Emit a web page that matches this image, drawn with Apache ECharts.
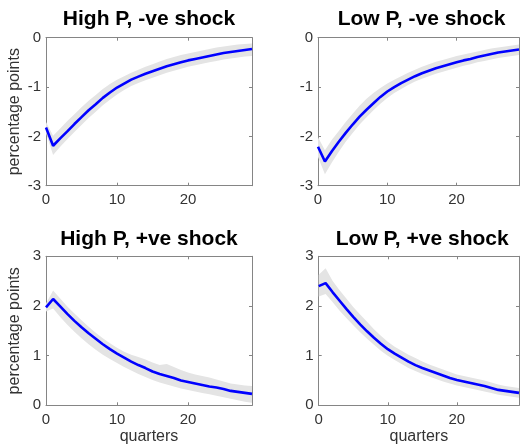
<!DOCTYPE html>
<html>
<head>
<meta charset="utf-8">
<script src="https://cdn.jsdelivr.net/npm/echarts@6/dist/echarts.min.js"></script>
<style>
html,body{margin:0;padding:0;background:#fff;}
#chart{width:522px;height:446px;}
</style>
</head>
<body>
<div id="chart"></div>
<script>
// ---- data ----
const quarters = [0,1,2,3,4,5,6,7,8,9,10,11,12,13,14,15,16,17,18,19,20,21,22,23,24,25,26,27,28,29];
const titles = ['High P, -ve shock', 'Low P, -ve shock', 'High P, +ve shock', 'Low P, +ve shock'];
const xTicks = [0, 10, 20];
const yTicksNeg = [-3, -2, -1, 0];
const yTicksPos = [0, 1, 2, 3];

const highNeg = [-1.82,-2.19,-2.04,-1.90,-1.75,-1.61,-1.47,-1.35,-1.22,-1.11,-1.01,-0.93,-0.85,-0.79,-0.73,-0.68,-0.63,-0.58,-0.54,-0.50,-0.46,-0.43,-0.40,-0.37,-0.34,-0.31,-0.29,-0.27,-0.25,-0.23];
const highNegLo = [-1.93,-2.38,-2.21,-2.06,-1.91,-1.77,-1.63,-1.50,-1.37,-1.26,-1.15,-1.06,-0.98,-0.92,-0.86,-0.81,-0.76,-0.71,-0.67,-0.63,-0.59,-0.56,-0.53,-0.50,-0.47,-0.44,-0.42,-0.40,-0.38,-0.37];
const highNegHi = [-1.71,-1.99,-1.84,-1.69,-1.55,-1.41,-1.28,-1.16,-1.04,-0.94,-0.85,-0.78,-0.71,-0.65,-0.59,-0.54,-0.48,-0.43,-0.39,-0.35,-0.32,-0.29,-0.26,-0.23,-0.20,-0.18,-0.16,-0.14,-0.13,-0.12];

const lowNeg = [-2.21,-2.51,-2.30,-2.11,-1.93,-1.76,-1.60,-1.46,-1.33,-1.20,-1.09,-1.00,-0.92,-0.85,-0.78,-0.72,-0.67,-0.62,-0.58,-0.54,-0.50,-0.46,-0.43,-0.39,-0.36,-0.33,-0.30,-0.28,-0.26,-0.24];
const lowNegLo = [-2.42,-2.77,-2.53,-2.31,-2.11,-1.93,-1.76,-1.61,-1.47,-1.34,-1.22,-1.12,-1.04,-0.96,-0.89,-0.83,-0.78,-0.73,-0.69,-0.65,-0.61,-0.57,-0.54,-0.50,-0.47,-0.44,-0.41,-0.39,-0.37,-0.35];
const lowNegHi = [-2.02,-2.28,-2.07,-1.89,-1.71,-1.54,-1.38,-1.24,-1.12,-1.02,-0.93,-0.85,-0.78,-0.71,-0.65,-0.59,-0.54,-0.49,-0.45,-0.41,-0.37,-0.34,-0.31,-0.28,-0.25,-0.22,-0.20,-0.18,-0.16,-0.14];

const highPos = [1.97,2.14,1.99,1.84,1.70,1.57,1.45,1.34,1.23,1.13,1.04,0.96,0.88,0.81,0.75,0.68,0.63,0.59,0.55,0.50,0.47,0.44,0.41,0.38,0.36,0.33,0.29,0.27,0.25,0.23];
const highPosLo = [1.89,1.95,1.78,1.62,1.48,1.35,1.23,1.12,1.02,0.93,0.85,0.77,0.70,0.63,0.57,0.51,0.46,0.42,0.38,0.34,0.31,0.28,0.25,0.22,0.19,0.16,0.13,0.10,0.07,0.05];
const highPosHi = [2.05,2.31,2.15,1.99,1.85,1.71,1.58,1.46,1.35,1.25,1.16,1.08,1.02,0.97,0.92,0.86,0.81,0.83,0.77,0.71,0.66,0.62,0.59,0.56,0.52,0.48,0.44,0.42,0.40,0.39];

const lowPos = [2.40,2.46,2.28,2.11,1.94,1.78,1.63,1.49,1.36,1.24,1.13,1.04,0.96,0.88,0.81,0.75,0.70,0.65,0.60,0.55,0.51,0.48,0.45,0.42,0.39,0.35,0.31,0.29,0.27,0.25];
const lowPosLo = [2.19,2.24,2.08,1.91,1.76,1.61,1.47,1.34,1.22,1.10,1.00,0.91,0.83,0.75,0.69,0.63,0.58,0.53,0.48,0.44,0.40,0.37,0.34,0.31,0.28,0.25,0.21,0.19,0.17,0.15];
const lowPosHi = [2.63,2.76,2.51,2.32,2.15,1.98,1.83,1.68,1.53,1.40,1.28,1.18,1.10,1.02,0.95,0.88,0.82,0.77,0.72,0.67,0.62,0.59,0.56,0.53,0.50,0.46,0.42,0.39,0.37,0.35];

const panels = [
  {title: titles[0], mid: highNeg, lo: highNegLo, hi: highNegHi, yMin: yTicksNeg[0], yMax: yTicksNeg[3]},
  {title: titles[1], mid: lowNeg,  lo: lowNegLo,  hi: lowNegHi,  yMin: yTicksNeg[0], yMax: yTicksNeg[3]},
  {title: titles[2], mid: highPos, lo: highPosLo, hi: highPosHi, yMin: yTicksPos[0], yMax: yTicksPos[3]},
  {title: titles[3], mid: lowPos,  lo: lowPosLo,  hi: lowPosHi,  yMin: yTicksPos[0], yMax: yTicksPos[3]}
];

// ---- layout ----
const gridBoxes = [
  {left: 46,  top: 37.7,  width: 206, height: 148},
  {left: 318, top: 37.7,  width: 207, height: 148},
  {left: 46,  top: 256.3, width: 206, height: 149},
  {left: 318.7, top: 256.3, width: 207, height: 149}
];
const titleTops = [4, 4, 224, 224];
const titleShift = -5;
const FONT = '"Liberation Sans", Arial, Helvetica, sans-serif';
const AX = '#858585';
const LBL = '#333333';

const option = {
  animation: false,
  backgroundColor: '#ffffff',
  textStyle: {fontFamily: FONT},
  title: [], grid: [], xAxis: [], yAxis: [], series: []
};

panels.forEach((p, i) => {
  const g = gridBoxes[i];
  option.grid.push({left: g.left, top: g.top, width: g.width, height: g.height, show: false, containLabel: false});
  option.title.push({
    text: p.title, left: g.left + g.width / 2 + titleShift, top: titleTops[i], textAlign: 'center',
    textStyle: {fontFamily: FONT, fontSize: 21, fontWeight: 'bold', color: '#000'}
  });
  const isBottom = i >= 2, isLeft = i % 2 === 0;
  const xBase = {
    gridIndex: i, type: 'value', min: 0, max: quarters[quarters.length - 1], interval: 10,
    axisLine: {show: true, onZero: false, lineStyle: {color: AX, width: 1}},
    axisTick: {show: true, inside: true, length: 3, lineStyle: {color: AX}},
    splitLine: {show: false}
  };
  option.xAxis.push(Object.assign({}, xBase, {
    position: 'bottom',
    axisLabel: {show: true, color: LBL, fontSize: 15, margin: 7, fontFamily: FONT,
      formatter: v => xTicks.indexOf(v) >= 0 ? String(v) : ''},
    name: isBottom ? 'quarters' : '', nameLocation: 'middle', nameGap: 19,
    nameTextStyle: {fontSize: 16, color: LBL, fontFamily: FONT}
  }));
  option.xAxis.push(Object.assign({}, xBase, {position: 'top', axisLabel: {show: false}}));
  const yBase = {
    gridIndex: i, type: 'value', min: p.yMin, max: p.yMax, interval: 1,
    axisLine: {show: true, onZero: false, lineStyle: {color: AX, width: 1}},
    axisTick: {show: true, inside: true, length: 3, lineStyle: {color: AX}},
    splitLine: {show: false}
  };
  option.yAxis.push(Object.assign({}, yBase, {
    position: 'left',
    axisLabel: {show: true, color: LBL, fontSize: 15, margin: 5, fontFamily: FONT},
    name: isLeft ? 'percentage points' : '', nameLocation: 'middle', nameGap: 23,
    nameTextStyle: {fontSize: 16, color: LBL, fontFamily: FONT}
  }));
  option.yAxis.push(Object.assign({}, yBase, {position: 'right', axisLabel: {show: false}}));

  const xi = i * 2, yi = i * 2;
  option.series.push({
    type: 'custom', xAxisIndex: xi, yAxisIndex: yi, silent: true, z: 1, clip: true,
    data: quarters.map((q, k) => [q, p.lo[k], p.hi[k]]),
    encode: {x: 0, y: [1, 2]},
    renderItem: (params, api) => {
      if (params.dataIndex !== 0) return null;
      const pts = [];
      for (let k = 0; k < quarters.length; k++) pts.push(api.coord([quarters[k], p.hi[k]]));
      for (let k = quarters.length - 1; k >= 0; k--) pts.push(api.coord([quarters[k], p.lo[k]]));
      return {type: 'polygon', shape: {points: pts}, style: {fill: '#e4e4e4', stroke: null}};
    }
  });
  option.series.push({
    type: 'line', xAxisIndex: xi, yAxisIndex: yi, z: 3,
    data: quarters.map((q, k) => [q, p.mid[k]]),
    showSymbol: false, symbol: 'none',
    lineStyle: {color: '#0000ff', width: 2.6}
  });
});

const chart = echarts.init(document.getElementById('chart'), null, {renderer: 'canvas'});
chart.setOption(option);
</script>
</body>
</html>
